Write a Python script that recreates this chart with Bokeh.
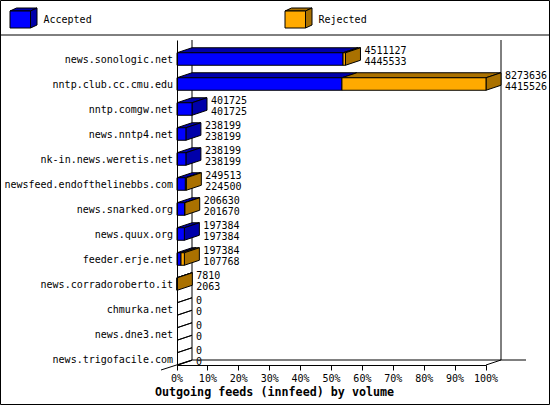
from bokeh.plotting import figure
from bokeh.models import Range1d, FixedTicker, Label
from bokeh.core.properties import value
from bokeh.embed import file_html
from bokeh.resources import INLINE

hosts = ["news.sonologic.net", "nntp.club.cc.cmu.edu", "nntp.comgw.net", "news.nntp4.net",
         "nk-in.news.weretis.net", "newsfeed.endofthelinebbs.com", "news.snarked.org", "news.quux.org",
         "feeder.erje.net", "news.corradoroberto.it", "chmurka.net", "news.dne3.net", "news.trigofacile.com"]
offered = [4511127, 8273636, 401725, 238199, 238199, 249513, 206630, 197384, 197384, 7810, 0, 0, 0]
accepted = [4445533, 4415526, 401725, 238199, 238199, 224500, 201670, 197384, 107768, 2063, 0, 0, 0]
pct_ticks = [0, 10, 20, 30, 40, 50, 60, 70, 80, 90, 100]
title_text = "Outgoing feeds (innfeed) by volume"

BLUE, BLUE_D = "#0000ff", "#0000aa"
ORANGE, ORANGE_D = "#ffaa00", "#aa7100"
FONT = "DejaVu Sans Mono"

W, H = 550, 405
X0, XSCALE = 176.5, 3.09      # px of 0 %, px per %
Y0, YSCALE = 58.5, 25.0       # px of row 0, px per row
DX, DY = 15 / XSCALE, 5 / YSCALE   # 3-D depth in data units
HALF = 6.25 / YSCALE


def px(x):
    return (x - 1 - X0) / XSCALE


def py(y):
    return (y - 1 - Y0) / YSCALE


p = figure(width=W, height=H, output_backend="svg", toolbar_location=None,
           x_range=Range1d((0 - X0) / XSCALE, (W - X0) / XSCALE),
           y_range=Range1d((H - Y0) / YSCALE, (0 - Y0) / YSCALE),
           min_border=0, min_border_left=0, min_border_right=0, min_border_top=0, min_border_bottom=0,
           outline_line_color="black", background_fill_color="white",
           border_fill_color="white")
p.grid.visible = False

base = py(365.5)
top = py(40.5)


def lines(segs):
    p.multi_line([[px(a), px(c)] for a, b, c, d in segs], [[py(b), py(d)] for a, b, c, d in segs],
                 line_color="black", line_width=1)


# legend separator
lines([(0.5, 35.5, 549.5, 35.5)])
# walls
lines([(192.5, 40.5, 192.5, 360.5), (501.5, 40.5, 501.5, 360.5), (192.5, 360.5, 526.5, 360.5),
       (161.5, 370.5, 192.5, 360.5), (486.5, 365.5, 501.5, 360.5)])

# bars
xs, ys, cols = [], [], []
ft_l, ft_r, ft_t, ft_b, ft_c = [], [], [], [], []
maxv = max(offered)
for i, (t, a) in enumerate(zip(offered, accepted)):
    tp, ap = 100 * t / maxv, 100 * a / maxv
    yt, yb = i - HALF, i + HALF
    # top face
    if ap > 0:
        xs.append([0, ap, ap + DX, DX]); ys.append([yt, yt, yt - DY, yt - DY]); cols.append(BLUE_D)
    if tp > ap:
        xs.append([ap, tp, tp + DX, ap + DX]); ys.append([yt, yt, yt - DY, yt - DY]); cols.append(ORANGE_D)
    if t == 0:
        xs.append([0, DX]); ys.append([yt, yt - DY]); cols.append("black")
        xs.append([0, DX]); ys.append([yb, yb - DY]); cols.append("black")
    else:
        # right side face
        xs.append([tp, tp + DX, tp + DX, tp]); ys.append([yt, yt - DY, yb - DY, yb])
        cols.append(ORANGE_D if tp > ap else BLUE_D)
    # front faces
    if ap > 0:
        ft_l.append(0); ft_r.append(ap); ft_t.append(yt); ft_b.append(yb); ft_c.append(BLUE)
    if tp > ap:
        ft_l.append(ap); ft_r.append(tp); ft_t.append(yt); ft_b.append(yb); ft_c.append(ORANGE)

p.patches(xs, ys, fill_color=cols, line_color="black", line_width=1)
p.quad(left=ft_l, right=ft_r, top=ft_t, bottom=ft_b, fill_color=ft_c, line_color="black", line_width=1)

# value labels
lab_x, lab_y, lab_t = [], [], []
for i, (t, a) in enumerate(zip(offered, accepted)):
    lx = 100 * t / maxv + DX + 4 / XSCALE
    lab_x += [lx, lx]
    lab_y += [i - 9.5 / YSCALE, i + 1.5 / YSCALE]
    lab_t += [str(t), str(a)]
p.text(lab_x, lab_y, text=lab_t, text_font=value(FONT), text_font_size="10px", text_color="black",
       text_align="left", text_baseline="middle")

# axes
xa = p.xaxis[0]
xa.fixed_location = base
xa.bounds = (0, 100)
xa.ticker = FixedTicker(ticks=pct_ticks)
xa.major_label_overrides = {t: f"{t}%" for t in pct_ticks}
xa.major_tick_out = 5
xa.major_tick_in = 0
xa.minor_tick_line_color = None
xa.major_label_standoff = 3
xa.major_label_text_font = FONT
xa.major_label_text_font_size = "10px"
xa.major_label_text_color = "black"
xa.axis_line_color = "black"
xa.major_tick_line_color = "black"

ya = p.yaxis[0]
ya.fixed_location = 0
ya.bounds = (base, top)
ya.ticker = FixedTicker(ticks=list(range(len(hosts))))
ya.major_label_overrides = {i: h for i, h in enumerate(hosts)}
ya.major_tick_out = 0
ya.major_tick_in = 0
ya.minor_tick_line_color = None
ya.major_label_standoff = 4
ya.major_label_text_font = FONT
ya.major_label_text_font_size = "10px"
ya.major_label_text_color = "black"
ya.axis_line_color = "black"

# title
p.add_layout(Label(x=px(275), y=py(392), text=title_text, text_font=FONT, text_font_size="11.7px",
                   text_font_style="bold", text_color="black", text_align="center", text_baseline="middle"))

# legend
for lx, front, side, name in [(10.5, BLUE, BLUE_D, "Accepted"), (285.5, ORANGE, ORANGE_D, "Rejected")]:
    r, t_, b_ = lx + 20.5, 11.5, 28.5
    d, e = 6.5, 3
    p.patch([px(v) for v in [lx, r, r + d, lx + d]], [py(v) for v in [t_, t_, t_ - e, t_ - e]],
            fill_color=side, line_color="black")
    p.patch([px(v) for v in [r, r + d, r + d, r]], [py(v) for v in [t_, t_ - e, b_ - e, b_]],
            fill_color=side, line_color="black")
    p.patch([px(v) for v in [lx, r, r, lx]], [py(v) for v in [t_, t_, b_, b_]],
            fill_color=front, line_color="black")
    p.add_layout(Label(x=px(lx + 33.5), y=py(20), text=name, text_font=FONT, text_font_size="10px",
                       text_color="black", text_align="left", text_baseline="middle"))

open("out.html", "w").write(file_html(p, INLINE))
